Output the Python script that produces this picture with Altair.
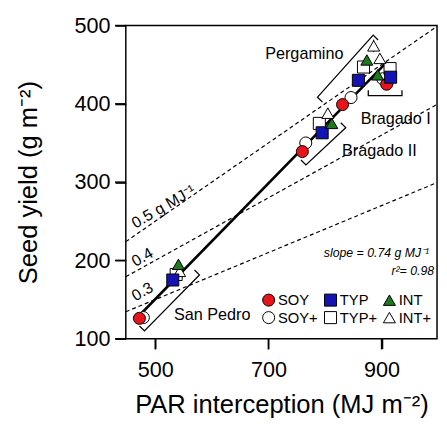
import altair as alt
import pandas as pd

# ---- data ----
SITES = ["San Pedro"] * 6 + ["Bragado II"] * 6 + ["Pergamino"] * 6 + ["Bragado I"] * 6
TRT = ["SOY", "SOY+", "TYP", "TYP+", "INT", "INT+"] * 4
PAR = [472, 479, 531, 537, 541, 543,
       760, 766, 795, 790, 812, 805,
       831, 846, 859, 868, 874, 886,
       909, 902, 916, 915, 893, 897]
YIELD = [126, 127, 175, 182, 195, 186,
         339, 350, 363, 375, 375, 388,
         399, 408, 430, 447, 456, 474,
         425, 432, 434, 445, 437, 458]
YERR = [0, 0, 0, 0, 0, 0,
        0, 6, 0, 0, 0, 7,
        0, 0, 0, 0, 0, 8,
        0, 0, 0, 0, 0, 6]
XERR = [0, 0, 0, 0, 0, 0,
        0, 9, 0, 0, 0, 0,
        0, 0, 0, 0, 0, 0,
        12, 0, 0, 8, 0, 0]

TRT_ORDER = ["SOY", "TYP", "INT", "SOY+", "TYP+", "INT+"]
TRT_SHAPES = ["circle", "square", "triangle-up", "circle", "square", "triangle-up"]
TRT_FILLS = ["#e8141c", "#1414b4", "#1e781e", "white", "white", "white"]
TRT_STROKES = ["black"] * 6

X_TICKS = [500, 700, 900]
Y_TICKS = [100, 200, 300, 400, 500]

RUE = [0.5, 0.4, 0.3]
RUE_LABELS = ["0.5 g MJ⁻¹", "0.4", "0.3"]
RUE_LABEL_X = [514.7, 477.4, 477.4]
RUE_LABEL_Y = [268.5, 204, 160]
X_DOMAIN = [448, 998]
Y_DOMAIN = [100, 500]

REG_SLOPE = 0.74
REG_INTERCEPT = -219.5
REG_X = [477, 905]

SITE_LABELS = ["Pergamino", "Bragado I", "Bragado II", "San Pedro"]
SITE_LABEL_X = [694.3, 863, 830, 533]
SITE_LABEL_Y = [463.6, 380, 339.5, 130.5]

BR_SITE = ["San Pedro"] * 4 + ["Bragado II"] * 4 + ["Pergamino"] * 4 + ["Bragado I"] * 4
BR_ORDER = [0, 1, 2, 3] * 4
BR_X = [472.2, 480.9, 578.1, 569.4,
        757.6, 766.3, 836.6, 827.9,
        795.5, 786.8, 885.2, 893.8,
        876.5, 876.5, 936.0, 936.0]
BR_Y = [116.3, 110.0, 181.5, 187.8,
        328.2, 321.9, 369.6, 375.9,
        402.2, 408.5, 487.8, 481.6,
        417.2, 410.6, 410.6, 417.2]

STATS = ["slope = 0.74 g MJ⁻¹", "r²= 0.98"]
STATS_X = [984, 992.7]
STATS_Y = [210, 186.5]

FONT = "Liberation Sans"

# ---- tables ----
pts = pd.DataFrame({"site": SITES, "trt": TRT, "par": PAR, "yld": YIELD,
                    "yerr": YERR, "xerr": XERR})
pts["open"] = pts["trt"].str.endswith("+")
pts = pd.concat([pts[pts["open"]], pts[~pts["open"]]]).reset_index(drop=True)
pts["draw"] = range(len(pts))
pts["ylo"] = pts["yld"] - pts["yerr"]
pts["yhi"] = pts["yld"] + pts["yerr"]
pts["xlo"] = pts["par"] - pts["xerr"]
pts["xhi"] = pts["par"] + pts["xerr"]

rue_rows = []
for k in RUE:
    for xv in X_DOMAIN:
        rue_rows.append({"k": str(k), "par": xv, "yld": k * xv})
rue_df = pd.DataFrame(rue_rows)

reg_df = pd.DataFrame({"par": REG_X, "yld": [REG_SLOPE * v + REG_INTERCEPT for v in REG_X]})
rue_lab = pd.DataFrame({"t": RUE_LABELS, "par": RUE_LABEL_X, "yld": RUE_LABEL_Y})
site_lab = pd.DataFrame({"t": SITE_LABELS, "par": SITE_LABEL_X, "yld": SITE_LABEL_Y})
br_df = pd.DataFrame({"site": BR_SITE, "o": BR_ORDER, "par": BR_X, "yld": BR_Y})
stats_df = pd.DataFrame({"t": STATS, "par": STATS_X, "yld": STATS_Y})
xt_df = pd.DataFrame({"par": X_TICKS})
yt_df = pd.DataFrame({"yld": Y_TICKS})

xs = alt.Scale(domain=X_DOMAIN, nice=False, zero=False)
ys = alt.Scale(domain=Y_DOMAIN, nice=False, zero=False)

XTITLE = "PAR interception (MJ m⁻²)"
YTITLE = "Seed yield (g m⁻²)"
xaxis = alt.Axis(values=X_TICKS, title=XTITLE,
                 grid=False, domain=False, ticks=True, tickSize=10, tickWidth=1.5,
                 tickColor="black",
                 labelFontSize=22, labelFont=FONT, labelColor="black", labelPadding=11,
                 titleFontSize=26, titleFont=FONT, titleFontWeight="normal",
                 titleColor="black", titlePadding=12)
yaxis = alt.Axis(values=Y_TICKS, title=YTITLE,
                 grid=False, domain=False, ticks=True, tickSize=11, tickWidth=1.5,
                 tickColor="black",
                 labelFontSize=22, labelFont=FONT, labelColor="black", labelPadding=5,
                 titleFontSize=26, titleFont=FONT, titleFontWeight="normal",
                 titleColor="black", titlePadding=33)


def X(field="par"):
    return alt.X(f"{field}:Q", scale=xs, axis=xaxis, title=XTITLE)


def Y(field="yld"):
    return alt.Y(f"{field}:Q", scale=ys, axis=yaxis, title=YTITLE)


xticks = alt.Chart(xt_df).mark_rule(color="black", strokeWidth=1.5, clip=False).encode(
    x=X(), y=alt.value(319), y2=alt.value(330))
yticks = alt.Chart(yt_df).mark_rule(color="black", strokeWidth=1.5, clip=False).encode(
    y=Y(), x=alt.value(0), x2=alt.value(-11))

rue_lines = alt.Chart(rue_df).mark_line(color="black", strokeWidth=1.2, strokeDash=[4, 3],
                                        clip=True).encode(x=X(), y=Y(), detail="k:N")

reg_line = alt.Chart(reg_df).mark_line(color="black", strokeWidth=2.6).encode(x=X(), y=Y())

brackets = alt.Chart(br_df).mark_line(color="black", strokeWidth=1.3).encode(
    x=X(), y=Y(), detail="site:N", order="o:Q")

err_y = alt.Chart(pts[pts["yerr"] > 0]).mark_rule(color="black", strokeWidth=1).encode(
    x=X(), y=Y("ylo"), y2="yhi:Q")
err_x = alt.Chart(pts[pts["xerr"] > 0]).mark_rule(color="black", strokeWidth=1).encode(
    y=Y(), x=X("xlo"), x2="xhi:Q")

leg = alt.Legend(title=None, orient="none", legendX=138, legendY=272,
                 direction="horizontal", columns=3, columnPadding=4, rowPadding=1,
                 symbolSize=150, symbolStrokeColor="black", symbolStrokeWidth=1,
                 labelFontSize=15, labelFont=FONT, labelColor="black", labelOffset=2)

points = alt.Chart(pts).mark_point(filled=True, strokeWidth=1, size=150, opacity=1).encode(
    x=X(), y=Y(),
    shape=alt.Shape("trt:N", scale=alt.Scale(domain=TRT_ORDER, range=TRT_SHAPES), legend=leg),
    fill=alt.Fill("trt:N", scale=alt.Scale(domain=TRT_ORDER, range=TRT_FILLS), legend=leg),
    stroke=alt.Stroke("trt:N", scale=alt.Scale(domain=TRT_ORDER, range=TRT_STROKES),
                      legend=leg),
    order="draw:Q",
)

rue_text = alt.Chart(rue_lab).mark_text(font=FONT, fontSize=16, angle=330,
                                        align="center", baseline="middle",
                                        color="black").encode(x=X(), y=Y(), text="t:N")
site_text = alt.Chart(site_lab).mark_text(font=FONT, fontSize=16.5, align="left",
                                          baseline="middle", color="black").encode(
    x=X(), y=Y(), text="t:N")
stats_text = alt.Chart(stats_df).mark_text(font=FONT, fontSize=12.5, fontStyle="italic",
                                           align="right", baseline="middle",
                                           color="black").encode(x=X(), y=Y(), text="t:N")

chart = alt.layer(xticks, yticks, rue_lines, reg_line, brackets, err_y, err_x, points,
                  rue_text, site_text, stats_text).properties(
    width=317, height=319,
    padding={"left": 120, "top": 14, "right": 2, "bottom": 82},
    autosize=alt.AutoSizeParams(type="none"),
    background="white",
).configure_view(stroke="black", strokeWidth=1.5).configure_axis(
    titleFontWeight="normal", tickColor="black", tickOpacity=1)

chart.save("out.html", embed_options={"renderer": "svg", "actions": False})
